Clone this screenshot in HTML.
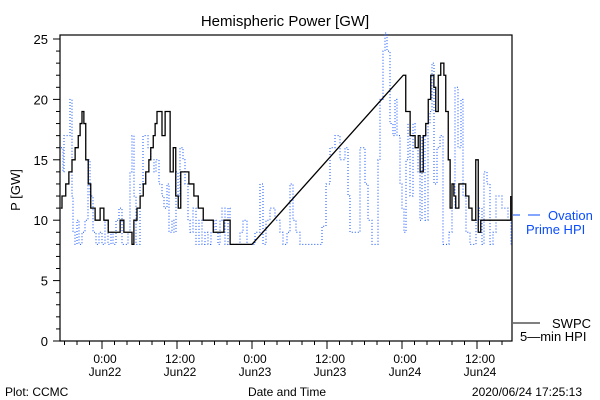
<!DOCTYPE html>
<html><head><meta charset="utf-8"><style>
body{margin:0;background:#fff;}
svg{display:block;font-family:"Liberation Sans",sans-serif;}
</style></head><body>
<svg id="chart" width="600" height="400" viewBox="0 0 600 400">
<text x="285" y="26" font-size="15" text-anchor="middle">Hemispheric Power [GW]</text>
<text x="20" y="190" font-size="13" text-anchor="middle" transform="rotate(-90 20 190)">P [GW]</text>
<text x="287" y="396" font-size="12" text-anchor="middle">Date and Time</text>
<text x="5" y="396" font-size="12">Plot: CCMC</text>
<text x="582" y="396" font-size="12" text-anchor="end">2020/06/24 17:25:13</text>
<g id="axes"></g>
<g id="series"></g>
<line x1="513" y1="215" x2="520" y2="215" stroke="#0a4dff"/>
<line x1="528" y1="215" x2="540" y2="215" stroke="#0a4dff"/>
<text x="548" y="220" font-size="13" fill="#0a4dff">Ovation</text>
<text x="526" y="234" font-size="13" fill="#0a4dff">Prime HPI</text>
<line x1="513" y1="323" x2="540" y2="323" stroke="#000"/>
<text x="552" y="328" font-size="13">SWPC</text>
<text x="520" y="341" font-size="13">5—min HPI</text>
</svg>
<script>
const xTickHours=[0,12,24,36,48,60];
const xTickLabels=[["0:00","Jun22"],["12:00","Jun22"],["0:00","Jun23"],["12:00","Jun23"],["0:00","Jun24"],["12:00","Jun24"]];
const yTickValues=[0,5,10,15,20,25];
const swpcHours=[-6.6,-6.4,-5.8,-5.3,-4.8,-4.3,-3.8,-3.5,-3.2,-2.9,-2.6,-2.2,-1.8,-1.1,-0.3,0.3,1,2.1,2.9,3.5,4.8,5.1,5.6,6.1,6.6,7,7.5,7.8,8.2,8.5,8.8,9.6,10.1,10.9,11.4,11.8,12.2,12.6,13.9,14.7,15.4,16.2,17,17.8,18.9,19.5,20.5,24,48.2,48.6,49.3,50.1,50.6,50.9,51.4,51.8,52.2,52.6,53.1,53.4,53.8,54.2,54.7,55,55.4,55.7,56,56.3,56.6,57.1,57.8,58.2,58.7,59.2,59.8,60.2,60.6,61.4,62.4,65,65.4];
const swpcValues=[11,12,13,14,15,16,17,18,19,18,15,13,11,10,11,10,9,9,10,9,8,10,11,12,13,14,15,16,17,18,19,17,19,14,16,12,11,14,13,12,11,10,10,9,9,10,8,8,22,19,17,16,17,14,17,18,20,22,21,19,22,23,22,19,15,11,13,12,11,13,13,12,11,10,15,9,10,10,10,10,12];
const ovHours=[-6.56,-6.24,-6.08,-5.76,-5.44,-5.12,-4.8,-4.64,-4.32,-4,-3.68,-3.2,-2.72,-2.24,-1.92,-1.44,-0.96,-0.48,0,0.48,0.96,1.44,1.76,2.24,2.72,3.2,3.68,4.16,4.48,4.8,5.12,5.44,6.08,6.56,7.04,7.36,7.84,8.32,8.64,9.12,9.6,9.92,10.4,10.72,11.2,11.52,11.84,12.16,12.48,12.96,13.28,13.76,14.08,14.56,15.04,15.52,16,16.48,16.96,17.44,17.92,18.24,18.56,18.88,19.2,19.68,20.16,20.48,21.28,22.08,22.56,23.2,23.68,24.48,25.28,25.76,26.24,26.88,27.68,28.48,28.96,29.6,30.08,30.56,31.04,31.68,33.28,34.56,35.2,35.84,36.48,37.28,38.08,38.88,39.36,39.68,40.48,41.28,42.08,42.56,43.2,43.68,44.16,44.48,44.96,45.28,45.6,46.08,46.56,46.88,47.2,47.68,48,48.32,48.64,48.96,49.28,49.76,50.08,50.56,50.88,51.2,51.68,52.16,52.48,52.8,53.12,53.6,54.08,54.56,55.04,55.52,56,56.48,56.96,57.44,57.76,58.24,58.88,59.36,59.84,60.32,60.8,61.12,61.6,62.08,62.56,63.04,63.52,64,64.48,64.96,65.44];
const ovValues=[16,14,17,17,17,20,12,9,8,10,8,9,10,15,12,9,8,9,8,10,8,9,8,10,11,8,8,9,14,17,12,8,13,17,17,16,15,14,15,13,12,11,13,9,10,9,14,12,16,15,13,10,9,11,8,10,8,9,8,9,10,9,8,10,11,8,11,8,8,9,10,8,8,9,13,8,10,11,10,9,8,9,13,10,9,8,8,8,9.5,13,16,17,15,16,12,9,9,16,13,10,8,8,15,20,24,25.5,24,18,17,20,17,13,11,9,15,18,12,18,16,14,10,17,10,18,19,23,13,16,17,8,8,9,11,21,16,20,12,9,8,8,10,11,8,14,13,8,9,12,12,11,11,10,8];

const L=60,R=512,T=35,B=341,H0=-6.72,H1=65.6,V1=25.33;
const xs=h=>L+(h-H0)/(H1-H0)*(R-L);
const ys=v=>B-v/V1*(B-T);
const NS="http://www.w3.org/2000/svg";
function mk(tag,attrs,parent){const e=document.createElementNS(NS,tag);for(const k in attrs)e.setAttribute(k,attrs[k]);parent.appendChild(e);return e;}
const ax=document.getElementById('axes');
const frame=mk('rect',{x:L,y:T,width:R-L,height:B-T,fill:'none',stroke:'#000','stroke-width':1.2},ax);


for(let v=0;v<=25;v++){const y=ys(v);const len=v%5===0?7:4;
 const t=mk('line',{x1:L-len,x2:L,y1:y,y2:y,stroke:'#000'},ax);
 
 }
yTickValues.forEach(v=>{const t=mk('text',{x:L-12,y:ys(v)+5,'font-size':13,'text-anchor':'end'},ax);t.textContent=v;
 
 });
for(let h=-6;h<=H1;h+=2){const x=xs(h);const len=h%12===0?8:4;
 const t=mk('line',{x1:x,x2:x,y1:B,y2:B+len,stroke:'#000'},ax);
 
 }
xTickHours.forEach((h,i)=>{const t=mk('text',{x:xs(h)+3,y:B+22,'font-size':12,'text-anchor':'middle'},ax);t.textContent=xTickLabels[i][0];
 
 
 const t2=mk('text',{x:xs(h)+3,y:B+35,'font-size':12,'text-anchor':'middle'},ax);t2.textContent=xTickLabels[i][1];
 
 });
function stepPath(hs,vs,gap){let d='M'+xs(hs[0])+' '+ys(vs[0]);
 for(let i=1;i<hs.length;i++){const x=xs(hs[i]),y=ys(vs[i]);
  if(gap&&hs[i]-hs[i-1]>gap)d+=' L'+x+' '+y;else d+=' H'+x+' V'+y;}
 return d;}
const sg=document.getElementById('series');
const ov=mk('path',{d:stepPath(ovHours,ovValues,0),fill:'none',stroke:'#0a4dff','stroke-width':1,'stroke-dasharray':'1 2'},sg);


const sw=mk('path',{d:stepPath(swpcHours,swpcValues,3),fill:'none',stroke:'#000','stroke-width':1.3},sg);


</script>
</body></html>
